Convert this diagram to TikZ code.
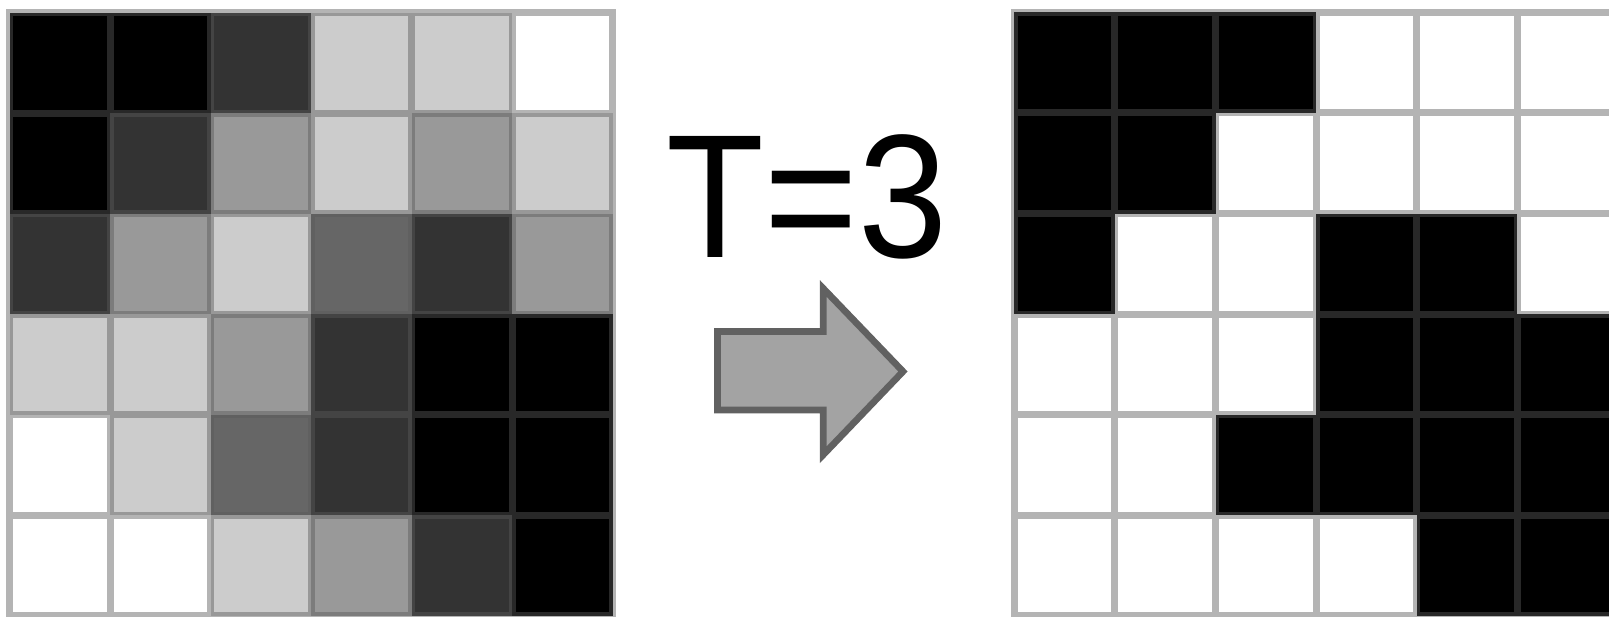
\documentclass[tikz,border=0pt]{standalone}
\usepackage{fontspec}
\setmainfont{Liberation Sans}
\definecolor{lv0}{gray}{0}
\definecolor{lv1}{gray}{0.2}
\definecolor{lv2}{gray}{0.4}
\definecolor{lv3}{gray}{0.6}
\definecolor{lv4}{gray}{0.8}
\definecolor{lv5}{gray}{1}
\definecolor{arrowfill}{gray}{0.64}
\definecolor{arrowline}{gray}{0.38}
\definecolor{linegray}{gray}{0.35}
\tikzset{
  gridline/.style={line width=7pt, draw=linegray, draw opacity=0.45, line cap=rect},
  arrowshape/.style={line width=6.7pt, draw=arrowline, fill=arrowfill, line join=miter},
  label/.style={font=\fontsize{176}{176}\selectfont, anchor=base, inner sep=0pt, xscale=0.91}
}
\begin{document}
\begin{tikzpicture}[x=1pt,y=-1pt]
\useasboundingbox (0,0) rectangle (1609,616);
\clip (0,0) rectangle (1609,616);
% left grid (grey levels)
\def\px{9.5}\def\py{12.5}\def\pp{100.5}
\foreach \row [count=\r from 0] in {{0,0,1,4,4,5},{0,1,3,4,3,4},{1,3,4,2,1,3},{4,4,3,1,0,0},{5,4,2,1,0,0},{5,5,4,3,1,0}} {
  \foreach \v [count=\c from 0] in \row {
    \fill[lv\v] (\px+\c*\pp, \py+\r*\pp) rectangle (\px+\c*\pp+\pp, \py+\r*\pp+\pp);
  }
}
\draw[gridline]
  foreach \i in {0,...,6} { (\px+\i*\pp, \py) -- (\px+\i*\pp, \py+6*\pp) }
  foreach \i in {0,...,6} { (\px, \py+\i*\pp) -- (\px+6*\pp, \py+\i*\pp) };
% right grid (thresholded)
\def\qx{1014.3}\def\qy{12.3}\def\qp{100.6}
\foreach \row [count=\r from 0] in {{0,0,0,5,5,5},{0,0,5,5,5,5},{0,5,5,0,0,5},{5,5,5,0,0,0},{5,5,0,0,0,0},{5,5,5,5,0,0}} {
  \foreach \v [count=\c from 0] in \row {
    \fill[lv\v] (\qx+\c*\qp, \qy+\r*\qp) rectangle (\qx+\c*\qp+\qp, \qy+\r*\qp+\qp);
  }
}
\draw[gridline]
  foreach \i in {0,...,6} { (\qx+\i*\qp, \qy) -- (\qx+\i*\qp, \qy+6*\qp) }
  foreach \i in {0,...,6} { (\qx, \qy+\i*\qp) -- (\qx+6*\qp, \qy+\i*\qp) };
% label and arrow
\node[label] (thr) at (807,257) {T=3};
\draw[arrowshape] (717.5,331.5) -- (823.3,331.5) -- (823.3,288.5) -- (903,371.5)
  -- (823.3,454.7) -- (823.3,410) -- (717.5,410) -- cycle;
\end{tikzpicture}
\end{document}
